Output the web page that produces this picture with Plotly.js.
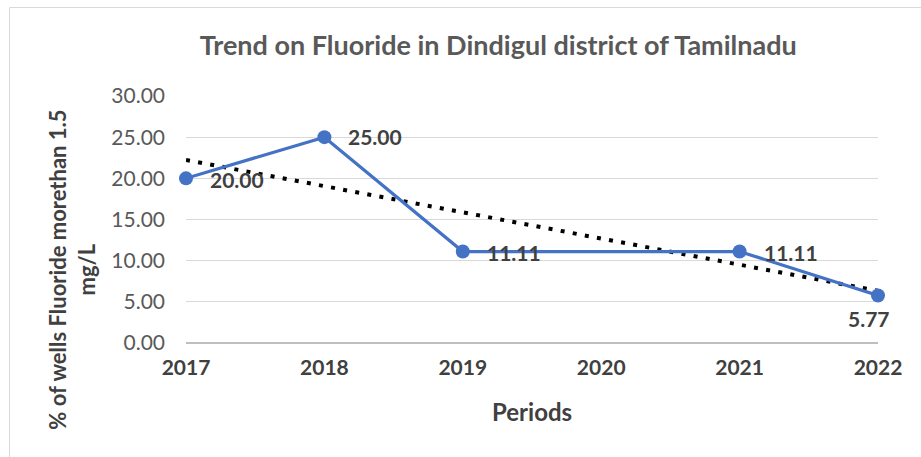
<!DOCTYPE html>
<html>
<head>
<meta charset="utf-8">
<script src="https://cdn.plot.ly/plotly-3.0.1.min.js"></script>
<style>html,body{margin:0;padding:0;background:#fff;}#chart{width:921px;height:457px;}</style>
</head>
<body>
<div id="chart"></div>
<script>
// Data
const years = [2017, 2018, 2019, 2021, 2022];
const pctWells = [20.00, 25.00, 11.11, 11.11, 5.77];
const trendYears = [2017, 2022];
const trendValues = [22.23, 6.33];
const xTicks = [2017, 2018, 2019, 2020, 2021, 2022];
const yTicks = [0, 5, 10, 15, 20, 25, 30];

const FONT = 'Lato, "Open Sans", sans-serif';

const traces = [
  {
    x: trendYears, y: trendValues, type: 'scatter', mode: 'lines',
    line: {color: '#000000', width: 4, dash: '4px,8.3px'},
    hoverinfo: 'skip', showlegend: false
  },
  {
    x: years, y: pctWells, type: 'scatter', mode: 'lines+markers',
    line: {color: '#4472C4', width: 3.2},
    marker: {color: '#4472C4', size: 14},
    cliponaxis: false,
    showlegend: false
  }
];

// data labels placed at each point through the axes
const labelAnns = years.map((yr, i) => {
  const last = i === years.length - 1;
  return {
    x: yr, y: pctWells[i], xref: 'x', yref: 'y',
    text: '<b>' + pctWells[i].toFixed(2) + '</b>',
    showarrow: false,
    xanchor: last ? 'center' : 'left', yanchor: 'middle',
    xshift: last ? -9 : 22, yshift: last ? -23 : (i === 1 ? 1 : -1),
    font: {family: FONT, size: 21, color: '#404040'}
  };
});

const layout = {
  width: 921, height: 457,
  margin: {l: 186, r: 43, t: 96, b: 114},
  paper_bgcolor: '#ffffff', plot_bgcolor: '#ffffff',
  font: {family: FONT, color: '#595959'},
  title: {
    text: '<b>Trend on Fluoride in Dindigul district of Tamilnadu</b>',
    font: {family: FONT, size: 27, color: '#595959'},
    x: 0.541, xref: 'container', xanchor: 'center',
    y: 0.9, yref: 'container', yanchor: 'middle'
  },
  xaxis: {
    range: [2017, 2022], tickvals: xTicks, ticktext: xTicks.map(String),
    showgrid: false, zeroline: false, showline: false, ticks: '',
    tickfont: {family: FONT, size: 21, color: '#404040', weight: 'bold'},
    ticklabelstandoff: 10
  },
  yaxis: {
    range: [0, 30], tickvals: yTicks, ticktext: yTicks.map(v => v.toFixed(2)),
    showgrid: true, gridcolor: '#d9d9d9', gridwidth: 1,
    zeroline: true, zerolinecolor: '#bfbfbf', zerolinewidth: 1.5,
    showline: false, ticks: '',
    tickfont: {family: FONT, size: 21, color: '#595959'},
    ticklabelstandoff: 20
  },
  annotations: labelAnns.concat([
    {
      text: '<b>% of wells Fluoride morethan 1.5<br>mg/L</b>',
      xref: 'paper', yref: 'paper', x: -0.165, y: 0.296,
      xanchor: 'center', yanchor: 'middle', textangle: -90, showarrow: false,
      font: {family: FONT, size: 22, color: '#404040'}
    },
    {
      text: '<b>Periods</b>',
      xref: 'paper', yref: 'paper', x: 0.5, y: -0.279,
      xanchor: 'center', yanchor: 'middle', showarrow: false,
      font: {family: FONT, size: 24, color: '#404040'}
    }
  ]),
  shapes: [
    {
      type: 'rect', xref: 'paper', yref: 'paper',
      x0: -0.2551, x1: 1.2, y0: -0.6, y1: 1.3583,
      line: {color: '#d9d9d9', width: 1}, fillcolor: 'rgba(0,0,0,0)', layer: 'below'
    }
  ]
};

Plotly.newPlot('chart', traces, layout, {displayModeBar: false, staticPlot: true});
</script>
</body>
</html>
